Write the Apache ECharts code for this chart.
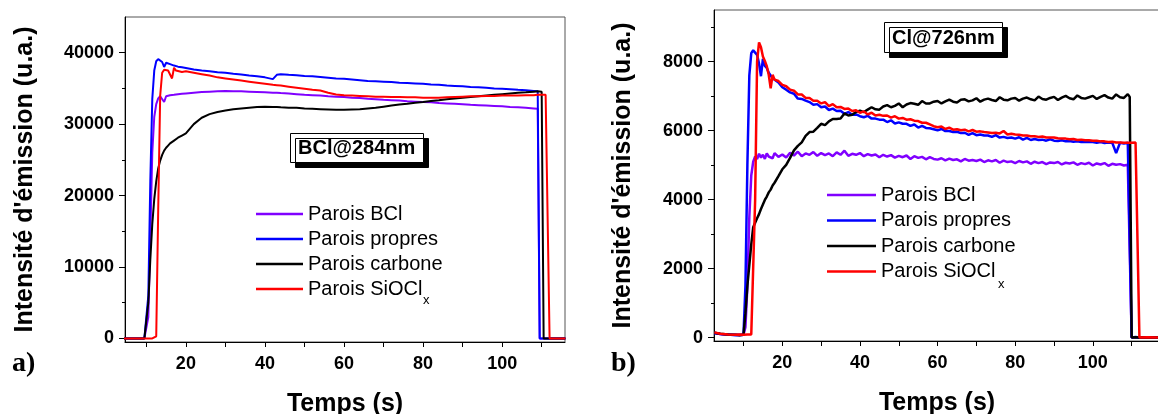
<!DOCTYPE html>
<html><head><meta charset="utf-8">
<script src="https://cdn.jsdelivr.net/npm/echarts@6/dist/echarts.min.js"></script>
<style>html,body{margin:0;padding:0;background:#fff}#c{width:1158px;height:414px}</style>
</head><body><div id="c"></div>
<script>
const seriesNames = ['Parois BCl', 'Parois propres', 'Parois carbone', 'Parois SiOCl'];
const seriesColors = ['#8000ff', '#0000ff', '#000000', '#ff0000'];

// ---- Chart a) BCl@284nm ----
const tA = [4, 7, 9.5, 10, 10.5, 11, 11.5, 12, 12.5, 13, 13.5, 14, 14.5, 15, 15.5, 16, 16.5, 17, 17.5, 18, 19, 20,
  22, 24, 26, 28, 30, 32, 34, 36, 38, 40, 42, 43,
  44, 46, 48, 50, 52, 54, 56, 58, 60, 62, 64, 66, 68, 70, 72, 74, 76, 78, 80, 82, 84, 86, 88, 90, 92, 94, 96, 98, 100, 102, 104, 106, 108,
  109, 109.5, 110, 110.5, 111, 111.5, 112, 113, 116];
const bclA = [0, 0, 0, 0, 3000, 14000, 26000, 31000, 32800, 33600, 33900, 34000, 33100, 33900, 34000, 34050, 34100, 34100, 34150, 34200, 34250, 34300,
  34400, 34500, 34550, 34600, 34650, 34600, 34600, 34550, 34500, 34450, 34400, 34380,
  34350, 34300, 34200, 34100, 34050, 34000, 33900, 33850, 33800, 33700, 33650, 33550, 33500, 33400, 33350, 33300, 33200, 33150, 33100, 33050, 32950, 32900, 32850, 32800, 32700, 32650, 32600, 32550, 32500, 32400, 32350, 32300, 32200,
  32150, 0, 0, 0, 0, 0, 0, 0, 0];
const propresA = [0, 0, 0, 0, 6000, 22000, 33500, 37500, 38800, 39100, 38900, 38700, 38000, 38600, 38500, 38400, 38300, 38200, 38100, 38050, 37950, 37850,
  37650, 37500, 37400, 37280, 37200, 37050, 36950, 36800, 36700, 36550, 36300, 36900,
  37000, 36900, 36850, 36750, 36700, 36600, 36500, 36400, 36350, 36250, 36150, 36050, 36000, 35950, 35900, 35800, 35750, 35700, 35650, 35550, 35500, 35400, 35350, 35300, 35200, 35150, 35100, 35000, 34950, 34900, 34800, 34750, 34650,
  34600, 0, 0, 0, 0, 0, 0, 0, 0];
const carboneA = [0, 0, 0, 0, 5000, 11000, 16000, 19500, 22000, 23800, 24900, 25700, 26300, 26700, 27000, 27300, 27500, 27700, 27900, 28100, 28400, 28700,
  30000, 30900, 31400, 31700, 31900, 32100, 32200, 32300, 32400, 32450, 32400, 32400,
  32350, 32300, 32300, 32200, 32150, 32100, 32050, 32000, 32000, 32050, 32100, 32200, 32300, 32450, 32600, 32750, 32850, 33000, 33100, 33250, 33350, 33500, 33600, 33700, 33800, 33900, 34000, 34100, 34200, 34300, 34400, 34450, 34550,
  34600, 34600, 34550, 0, 0, 0, 0, 0, 0];
const siocA = [0, 0, 0, 0, 0, 0, 0, 0, 300, 18000, 34000, 37200, 37600, 37600, 37500, 37700, 36400, 37900, 37500, 37300, 37300, 37400,
  37200, 37000, 36800, 36550, 36400, 36250, 36100, 35950, 35800, 35650, 35500, 35450,
  35400, 35250, 35100, 34950, 34800, 34700, 34400, 34150, 34050, 34000, 33950, 33900, 33850, 33850, 33800, 33800, 33750, 33750, 33700, 33700, 33700, 33750, 33800, 33850, 33900, 33900, 33950, 33950, 34000, 34000, 34000, 34050, 34050,
  34100, 34100, 34100, 34100, 34100, 34100, 0, 0, 0];

// ---- Chart b) Cl@726nm ----
const tB = [2.5, 4, 6, 8, 9, 10, 10.5, 11, 11.5, 12, 12.5, 13, 13.5, 14, 14.5, 15, 15.5, 16, 16.5, 17, 17.5, 18,
  19,
  20, 21, 22, 23, 24, 25, 26, 27, 28, 29,
  30, 31, 32, 33, 34, 35, 36, 37, 38, 39,
  40, 41, 42, 43, 44, 45, 46, 47, 48, 49,
  50, 51, 52, 53, 54, 55, 56, 57, 58, 59,
  60, 61, 62, 63, 64, 65, 66, 67, 68, 69,
  70, 71, 72, 73, 74, 75, 76, 77, 78, 79,
  80, 81, 82, 83, 84, 85, 86, 87, 88, 89,
  90, 91, 92, 93, 94, 95, 96, 97, 98, 99,
  100, 101, 102, 103, 104, 105, 106, 107, 108, 109,
  109.5, 110, 110.5, 111, 111.5, 112, 114, 117];
const bclB = [130, 100, 80, 80, 70, 80, 300, 1500, 3500, 4700, 5100, 5250, 5180, 5330, 5220, 5300, 5180, 5340, 5250, 5290, 5200, 5350,
  5240,
  5310, 5220, 5360, 5280, 5390, 5260, 5340, 5300, 5380, 5270,
  5350, 5290, 5340, 5260, 5370, 5300, 5420, 5270, 5330, 5300,
  5350, 5260, 5320, 5280, 5310, 5230, 5300, 5250, 5290, 5220,
  5270, 5230, 5280, 5180, 5260, 5210, 5240, 5170, 5230, 5180,
  5160, 5200, 5140, 5190, 5150, 5170, 5110, 5180, 5130, 5150,
  5120, 5160, 5090, 5140, 5110, 5150, 5070, 5130, 5090, 5110,
  5060, 5120, 5080, 5110, 5040, 5100, 5060, 5090, 5030, 5080,
  5060, 5090, 5020, 5070, 5050, 5080, 5010, 5060, 5030, 5070,
  4990, 5050, 5020, 5060, 4980, 5040, 5010, 5030, 4990, 5010,
  4980, 0, 0, 0, 10, 0, 0, 0];
const propresB = [130, 100, 90, 70, 80, 90, 1500, 5000, 7600, 8250, 8330, 8300, 8200, 7950, 7580, 8080, 7880, 7820, 7680, 7690, 7520, 7510,
  7400,
  7260, 7190, 7110, 7070, 6930, 6920, 6870, 6830, 6750, 6770,
  6680, 6700, 6600, 6640, 6570, 6580, 6490, 6540, 6460, 6470,
  6420, 6390, 6430, 6350, 6350, 6320, 6320, 6250, 6300, 6210,
  6240, 6200, 6200, 6140, 6180, 6090, 6140, 6080, 6070, 6040,
  6010, 6050, 5990, 5990, 5960, 5970, 5930, 5940, 5880, 5930,
  5870, 5890, 5860, 5860, 5820, 5870, 5800, 5820, 5790, 5800,
  5770, 5810, 5740, 5790, 5730, 5760, 5730, 5740, 5710, 5750,
  5710, 5700, 5720, 5690, 5700, 5680, 5690, 5670, 5680, 5670,
  5670, 5650, 5670, 5640, 5660, 5650, 5350, 5650, 5630, 5650,
  5600, 0, 0, 20, 10, 0, 10, 0];
const carboneB = [140, 110, 90, 80, 70, 80, 700, 1500, 2100, 2700, 3200, 3330, 3460, 3580, 3730, 3860, 3990, 4090, 4210, 4290, 4410, 4490,
  4680,
  4880, 5010, 5210, 5430, 5560, 5660, 5850, 5960, 5970, 6080,
  6200, 6160, 6270, 6340, 6340, 6350, 6500, 6440, 6460, 6540,
  6580, 6540, 6610, 6680, 6620, 6610, 6700, 6740, 6680, 6720,
  6790, 6680, 6760, 6800, 6780, 6750, 6860, 6790, 6790, 6840,
  6860, 6790, 6850, 6900, 6840, 6820, 6900, 6910, 6850, 6880,
  6940, 6840, 6900, 6930, 6890, 6860, 6970, 6900, 6880, 6930,
  6950, 6870, 6930, 6960, 6910, 6880, 6990, 6920, 6900, 6950,
  6980, 6890, 6960, 7010, 6940, 6910, 7020, 6950, 6930, 6970,
  7010, 6920, 6980, 7030, 6960, 6930, 7050, 6970, 6950, 7060,
  6980, 0, 0, 10, 0, 0, 10, 0];
const siocB = [150, 110, 90, 80, 90, 80, 80, 90, 80, 90, 100, 4000, 8000, 8560, 8420, 8150, 8020, 7870, 7620, 7230, 7620, 7480,
  7440,
  7330, 7290, 7190, 7160, 7050, 7050, 6950, 6950, 6870, 6870,
  6790, 6830, 6710, 6770, 6680, 6690, 6630, 6640, 6570, 6590,
  6520, 6560, 6470, 6520, 6440, 6460, 6430, 6440, 6380, 6420,
  6350, 6370, 6320, 6330, 6290, 6280, 6230, 6230, 6180, 6130,
  6100, 6120, 6050, 6090, 6030, 6040, 6010, 6030, 5980, 6020,
  5970, 5980, 5960, 5950, 5930, 5940, 5920, 5990, 5890, 5910,
  5890, 5880, 5860, 5860, 5840, 5840, 5820, 5830, 5800, 5800,
  5800, 5780, 5770, 5770, 5750, 5760, 5730, 5740, 5720, 5720,
  5710, 5710, 5690, 5690, 5670, 5680, 5660, 5660, 5650, 5650,
  5630, 5650, 5610, 5660, 5620, 0, 10, 0];

// ---- ticks ----
const xTicks = [10, 20, 30, 40, 50, 60, 70, 80, 90, 100, 110];
const xLabels = [20, 40, 60, 80, 100];
const yLabelsA = [0, 10000, 20000, 30000, 40000];
const yMinorA = [5000, 15000, 25000, 35000];
const yLabelsB = [0, 2000, 4000, 6000, 8000];
const yMinorB = [1000, 3000, 5000, 7000, 9000];

const FONT = '"Liberation Sans", Arial, sans-serif';
const yName = "Intensité d'émission (u.a.)";

function xAxisOpt(grid, min, max) {
  return {
    type: 'value', gridIndex: grid, min: min, max: max, position: 'bottom',
    axisLine: { show: true, onZero: false, lineStyle: { color: '#000', width: 1 } },
    axisTick: { show: true, length: 5, customValues: xTicks, lineStyle: { color: '#000' } },
    axisLabel: { customValues: xLabels, formatter: v => String(v), fontSize: 18, fontWeight: 'bold', color: '#000', fontFamily: FONT, margin: 13 },
    splitLine: { show: false },
    name: 'Temps (s)', nameLocation: 'middle', nameGap: 50,
    nameTextStyle: { fontSize: 25, fontWeight: 'bold', color: '#000', fontFamily: FONT }
  };
}
function yAxisOpt(grid, min, max, labels, gap) {
  return {
    type: 'value', gridIndex: grid, min: min, max: max, position: 'left',
    axisLine: { show: true, onZero: false, lineStyle: { color: '#000', width: 1 } },
    axisTick: { show: true, length: 6, customValues: labels, lineStyle: { color: '#000' } },
    axisLabel: { customValues: labels, formatter: v => String(v), fontSize: 18, fontWeight: 'bold', color: '#000', fontFamily: FONT, margin: 11 },
    splitLine: { show: false },
    name: yName, nameLocation: 'middle', nameGap: gap,
    nameTextStyle: { fontSize: 25, fontWeight: 'bold', color: '#000', fontFamily: FONT }
  };
}
function yMinorOpt(grid, min, max, minor) {
  return {
    type: 'value', gridIndex: grid, min: min, max: max, position: 'left',
    axisLine: { show: false, onZero: false },
    axisTick: { show: true, length: 3, customValues: minor, lineStyle: { color: '#000' } },
    axisLabel: { show: false }, splitLine: { show: false }
  };
}
function mk(t, v, idx, xi, yi, w) {
  return {
    type: 'line', name: seriesNames[idx], xAxisIndex: xi, yAxisIndex: yi,
    data: t.map((x, i) => [x, v[i]]),
    symbol: 'none', showSymbol: false, clip: true, silent: true,
    lineStyle: { color: seriesColors[idx], width: w }, itemStyle: { color: seriesColors[idx] }
  };
}
const legendBase = {
  data: seriesNames, orient: 'vertical', icon: 'rect', itemHeight: 2.5, selectedMode: false,
  textStyle: { fontSize: 20, color: '#000', fontFamily: FONT, lineHeight: 20 }
};
const boxStyle = {
  backgroundColor: '#fff', borderColor: '#000', borderWidth: 1,
  shadowColor: '#000', shadowOffsetX: 5, shadowOffsetY: 5, shadowBlur: 0,
  textStyle: { fontSize: 20, fontWeight: 'bold', color: '#000', fontFamily: FONT, lineHeight: 22 }
};

const chart = echarts.init(document.getElementById('c'));
chart.setOption({
  animation: false,
  backgroundColor: '#fff',
  textStyle: { fontFamily: FONT },
  title: [
    Object.assign({ text: 'BCl@284nm', left: 290, top: 133, padding: [4, 8, 4, 8] }, boxStyle),
    Object.assign({ text: 'Cl@726nm', left: 884, top: 22, padding: [5, 8, 4, 8] }, boxStyle)
  ],
  grid: [
    { left: 125, top: 17, width: 440, height: 325, outerBoundsMode: 'none', containLabel: false, show: true, borderColor: '#555', borderWidth: 1, backgroundColor: 'transparent' },
    { left: 714, top: 10, width: 446, height: 331, outerBoundsMode: 'none', containLabel: false, show: true, borderColor: '#555', borderWidth: 1, backgroundColor: 'transparent' }
  ],
  xAxis: [xAxisOpt(0, 4.6, 115.9), xAxisOpt(1, 2.4, 117.3)],
  yAxis: [
    yAxisOpt(0, -500, 45000, yLabelsA, 87),
    yAxisOpt(1, -100, 9500, yLabelsB, 78),
    yMinorOpt(0, -500, 45000, yMinorA),
    yMinorOpt(1, -100, 9500, yMinorB)
  ],
  legend: [
    Object.assign({ left: 251, top: 199, itemWidth: 47, itemGap: 5 }, legendBase),
    Object.assign({ left: 822, top: 180, itemWidth: 49, itemGap: 5.5 }, legendBase)
  ],
  graphic: [
    { type: 'text', x: 12, y: 364, style: { text: 'a)', font: 'bold 28px "Liberation Serif", "Times New Roman", serif', fill: '#000', verticalAlign: 'middle', align: 'left' } },
    { type: 'text', x: 611, y: 364, style: { text: 'b)', font: 'bold 28px "Liberation Serif", "Times New Roman", serif', fill: '#000', verticalAlign: 'middle', align: 'left' } },
    { type: 'text', x: 423, y: 300, style: { text: 'x', font: '13px "Liberation Sans", Arial, sans-serif', fill: '#000', verticalAlign: 'middle', align: 'left' } },
    { type: 'text', x: 998, y: 284, style: { text: 'x', font: '13px "Liberation Sans", Arial, sans-serif', fill: '#000', verticalAlign: 'middle', align: 'left' } }
  ],
  series: [
    mk(tA, bclA, 0, 0, 0, 2), mk(tA, propresA, 1, 0, 0, 2), mk(tA, carboneA, 2, 0, 0, 2), mk(tA, siocA, 3, 0, 0, 2),
    mk(tB, bclB, 0, 1, 1, 2.5), mk(tB, propresB, 1, 1, 1, 2.5), mk(tB, carboneB, 2, 1, 1, 2.5), mk(tB, siocB, 3, 1, 1, 2.5)
  ]
});
</script>
</body></html>
